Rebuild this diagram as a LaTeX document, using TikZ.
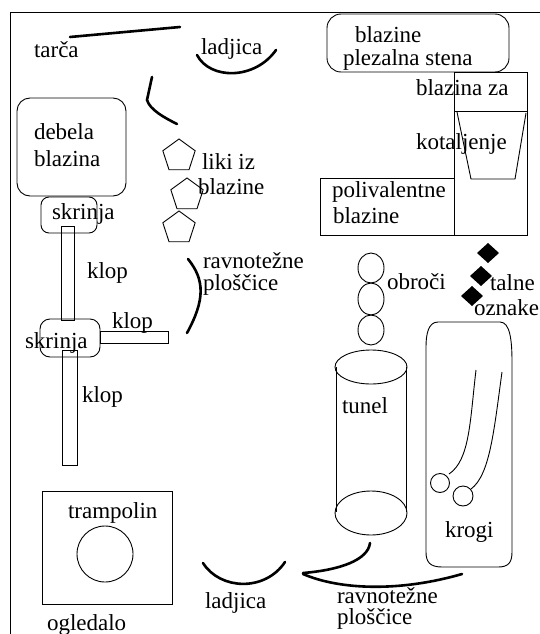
\documentclass[tikz,border=0pt]{standalone}
\usepackage{fontspec}
\setmainfont{Liberation Serif}
\usetikzlibrary{shapes.geometric}

\tikzset{
  lbl/.style={anchor=base west, inner sep=0pt, outer sep=0pt,
              font=\fontsize{23pt}{27pt}\selectfont},
  thin/.style={line width=0.9pt},
  heavy/.style={line width=2.6pt, line cap=round},
  penta/.style={regular polygon, regular polygon sides=5, draw, line width=0.9pt,
                minimum size=34pt, inner sep=0pt},
  marker/.style={fill=black}
}

\begin{document}
\begin{tikzpicture}[x=1pt, y=-1pt]
\useasboundingbox (0,0) rectangle (540,634);

% hall outline
\draw[thin] (10,634) -- (10,12) -- (540,12);

% target and boats
\draw[heavy] (70,37) -- (180,27);
\draw[heavy] (197,55) .. controls (210,80) and (255,80) .. (276,50);
\draw[heavy] (152,77) -- (147,100) .. controls (150,110) and (165,118) .. (177,124);
\draw[heavy] (203,563) .. controls (220,590) and (265,592) .. (285,562);

% mats and climbing wall
\draw[thin, rounded corners=14pt] (327,14) rectangle (509,72);
\draw[thin, rounded corners=13pt] (17,98) rectangle (126,196);
\draw[thin] (454,72) rectangle (527,235);
\draw[thin] (454,111) -- (527,111);
\draw[thin] (457,112) -- (471,179) -- (515,179) -- (526,113);
\draw[thin] (320,178) rectangle (454,235);

% boxes and benches
\draw[thin, rounded corners=8pt] (41,197) rectangle (97,233);
\draw[thin] (61,226) rectangle (74,320);
\draw[thin, rounded corners=10pt] (40,319) rectangle (100,357);
\draw[thin] (100,331) rectangle (168,343);
\draw[thin] (62,350) rectangle (77,465);

% foam shapes
\node[penta] (p1) at (179,156) {};
\node[penta] (p2) at (187,195) {};
\node[penta] (p3) at (179,228) {};

% balance boards
\draw[heavy] (188,259) .. controls (205,280) and (205,300) .. (187,333);
\draw[heavy] (370,543) .. controls (368,560) and (340,570) .. (303,573);
\draw[heavy] (303,574) .. controls (340,590) and (400,592) .. (462,574);

% hoops
\draw[thin] (371,268) ellipse [x radius=13, y radius=15];
\draw[thin] (371,299) ellipse [x radius=13, y radius=16];
\draw[thin] (371,330) ellipse [x radius=13, y radius=15];

% floor markers
\foreach \cx/\cy in {488/253, 481/276, 472/296}
  \fill[marker] (\cx,\cy-10) -- (\cx+11,\cy) -- (\cx,\cy+10) -- (\cx-11,\cy) -- cycle;

% tunnel
\draw[thin] (371,367) ellipse [x radius=36, y radius=17];
\draw[thin] (371,513) ellipse [x radius=36, y radius=22];
\draw[thin] (336,367) -- (336,512);
\draw[thin] (406,367) -- (406,512);

% trampoline
\draw[thin] (42,491) rectangle (172,604);
\draw[thin] (105,554) circle [radius=28];

% circles area
\draw[thin] (438,322) -- (500,322) .. controls (510,322) and (512,340) .. (512,362)
  -- (512,552) .. controls (512,563) and (508,567) .. (498,567)
  -- (442,567) .. controls (430,567) and (426,562) .. (426,552)
  -- (426,347) .. controls (426,335) and (428,322) .. (438,322) -- cycle;
\draw[thin] (476,370) .. controls (470,420) and (470,460) .. (449,474);
\draw[thin] (502,372) .. controls (494,430) and (490,475) .. (471,489);
\draw[thin] (440,483) circle [radius=9.5];
\draw[thin] (463,496) circle [radius=10];

% labels
\node[lbl] (tarca) at (34,57) {tarča};
\node[lbl] (ladjica1) at (201,55) {ladjica};
\node[lbl] (blazine1) at (355,43) {blazine};
\node[lbl] (stena) at (343,66) {plezalna stena};
\node[lbl] (blazinaza) at (416,95) {blazina za};
\node[lbl] (kotaljenje) at (416,149) {kotaljenje};
\node[lbl] (debela) at (34,139) {debela};
\node[lbl] (blazina) at (34,166) {blazina};
\node[lbl] (liki) at (202,169) {liki iz};
\node[lbl] (likiblazine) at (198,194) {blazine};
\node[lbl] (polivalentne) at (332,197) {polivalentne};
\node[lbl] (poliblazine) at (333,223) {blazine};
\node[lbl] (skrinja1) at (52,219) {skrinja};
\node[lbl] (klop1) at (87,278) {klop};
\node[lbl] (ravno1) at (203,268) {ravnotežne};
\node[lbl] (plosc1) at (203,290) {ploščice};
\node[lbl] (obroci) at (387,289) {obroči};
\node[lbl] (talne) at (490,290) {talne};
\node[lbl] (oznake) at (474,315) {oznake};
\node[lbl] (klop2) at (112,328) {klop};
\node[lbl] (skrinja2) at (25,348) {skrinja};
\node[lbl] (klop3) at (82,402) {klop};
\node[lbl] (tunel) at (342,413) {tunel};
\node[lbl] (trampolin) at (68,518) {trampolin};
\node[lbl] (krogi) at (445,537) {krogi};
\node[lbl] (ravno2) at (337,603) {ravnotežne};
\node[lbl] (plosc2) at (337,624) {ploščice};
\node[lbl] (ladjica2) at (205,608) {ladjica};
\node[lbl] (ogledalo) at (47,630) {ogledalo};
\end{tikzpicture}
\end{document}
